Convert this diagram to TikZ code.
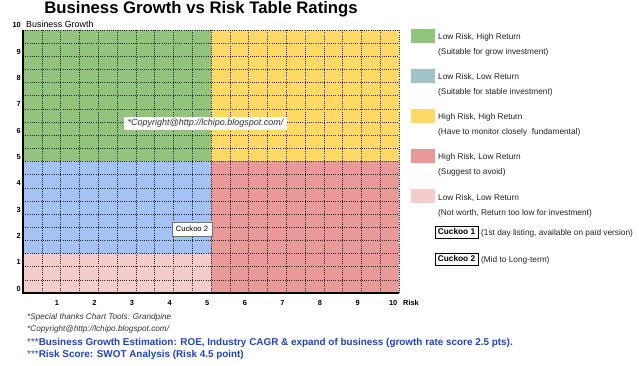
\documentclass[tikz,border=0pt]{standalone}
\usepackage{fontspec}
\setmainfont{Liberation Sans}
\definecolor{cgreen}{HTML}{93C47D}
\definecolor{cyellow}{HTML}{FFD966}
\definecolor{cblue}{HTML}{A4C2F4}
\definecolor{cred}{HTML}{EA9999}
\definecolor{cpink}{HTML}{F4CCCC}
\definecolor{cteal}{HTML}{A2C4C9}
\definecolor{ctxt}{HTML}{222222}
\definecolor{cnote}{HTML}{333333}
\definecolor{cbluetxt}{HTML}{1F45C4}
\tikzset{
  axnum/.style={font=\fontsize{7.4}{8}\selectfont\bfseries, inner sep=0pt, text=black},
  legtxt/.style={font=\fontsize{8.3}{9}\selectfont, inner sep=0pt, anchor=base west, text=ctxt},
  swatch/.style={minimum width=24pt, minimum height=14pt, inner sep=0pt, anchor=north west},
  cbox/.style={draw=black, line width=0.7pt, fill=white, minimum width=43pt, minimum height=12pt, inner sep=0pt, font=\fontsize{8.3}{9}\selectfont\bfseries},
  note/.style={font=\fontsize{8.2}{9}\selectfont\itshape, inner sep=0pt, anchor=base west, text=cnote},
  bluenote/.style={font=\fontsize{9.9}{11}\selectfont, inner sep=0pt, anchor=base west, text=cbluetxt},
  gridln/.style={line width=0.55pt, black!85, dash pattern=on 1pt off 1.2pt}
}
\begin{document}
\begin{tikzpicture}[x=1pt, y=-1pt]
\useasboundingbox (0,0) rectangle (639,366);
\fill[white] (0,0) rectangle (639,366);
% title
\node[font=\fontsize{16.7}{18}\selectfont\bfseries, anchor=base, inner sep=0pt] (title) at (201,13.5) {Business Growth vs Risk Table Ratings};
% chart
\begin{scope}[shift={(23,293)}, x=37.6pt, y=26.3pt]
  \fill[cgreen] (0,5) rectangle (5,10);
  \fill[cyellow] (5,5) rectangle (10,10);
  \fill[cblue] (0,1.5) rectangle (5,5);
  \fill[cpink] (0,0) rectangle (5,1.5);
  \fill[cred] (5,0) rectangle (10,5);
  \foreach \i in {0.5,1,...,10} {
    \draw[gridln] (\i,0) -- (\i,10);
    \draw[gridln] (0,\i) -- (10,\i);
  }
  \draw[line width=1.6pt] (0,10) -- (0,0) -- (10,0);
  \foreach \k in {1,...,10} {
    \node[axnum, anchor=base east] (xl\k) at ([xshift=-1.5pt,yshift=-12.5pt]\k,0) {\k};
  }
  \foreach \k in {0,...,10} {
    \node[axnum, anchor=base east] (yl\k) at ([xshift=-2pt,yshift=2pt]0,\k) {\k};
  }
  \node[axnum, anchor=base west] (risk) at ([xshift=4pt,yshift=-12.5pt]10,0) {Risk};
  \node[font=\fontsize{8.9}{9}\selectfont, inner sep=0pt, anchor=base west] (bg) at ([xshift=3pt,yshift=2.5pt]0,10) {Business Growth};
\end{scope}
% boxes in chart
\node[fill=white, minimum width=163pt, minimum height=13pt, inner sep=0pt, font=\fontsize{9}{9}\selectfont\itshape, text=cnote] (copy) at (205.5,123.5) {*Copyright@http://lchipo.blogspot.com/};
\node[draw=black!55, line width=0.8pt, fill=white, minimum width=40pt, minimum height=14pt, inner sep=0pt, font=\fontsize{7.6}{9}\selectfont] (ck2chart) at (192,229) {Cuckoo 2};
% legend
\node[swatch, fill=cgreen] (s1) at (411,29) {};
\node[legtxt] (l1a) at (438,40) {Low Risk, High Return};
\node[legtxt] (l1b) at (438,55) {(Suitable for grow investment)};
\node[swatch, fill=cteal] (s2) at (411,69) {};
\node[legtxt] (l2a) at (438,80) {Low Risk, Low Return};
\node[legtxt] (l2b) at (438,95) {(Suitable for stable investment)};
\node[swatch, fill=cyellow] (s3) at (411,109) {};
\node[legtxt] (l3a) at (438,120) {High Risk, High Return};
\node[legtxt] (l3b) at (438,135) {(Have to monitor closely\ \ fundamental)};
\node[swatch, fill=cred] (s4) at (411,149) {};
\node[legtxt] (l4a) at (438,160) {High Risk, Low Return};
\node[legtxt] (l4b) at (438,175) {(Suggest to avoid)};
\node[swatch, fill=cpink] (s5) at (411,189) {};
\node[legtxt] (l5a) at (438,200) {Low Risk, Low Return};
\node[legtxt] (l5b) at (438,215) {(Not worth, Return too low for investment)};
\node[cbox] (ck1) at (456.5,232) {Cuckoo 1};
\node[legtxt] (ck1t) at (481,235.5) {(1st day listing, available on paid version)};
\node[cbox] (ck2) at (456.5,259) {Cuckoo 2};
\node[legtxt] (ck2t) at (481,262.5) {(Mid to Long-term)};
% notes
\node[note] (n1) at (27,319) {*Special thanks Chart Tools: Grandpine};
\node[note] (n2) at (27,331.5) {*Copyright@http://lchipo.blogspot.com/};
\node[bluenote] (n3) at (27,345) {***\textbf{Business Growth Estimation: ROE, Industry CAGR \& expand of business (growth rate score 2.5 pts).}};
\node[bluenote] (n4) at (27,357.5) {***\textbf{Risk Score: SWOT Analysis (Risk 4.5 point)}};
\end{tikzpicture}
\end{document}
